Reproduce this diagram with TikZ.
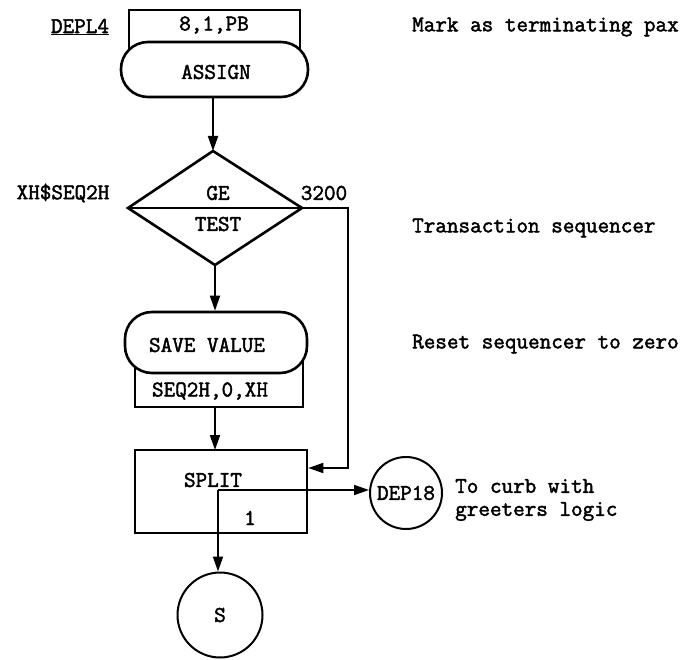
\documentclass[tikz,border=0pt]{standalone}
\usepackage{fontspec}
\newfontfamily\twfont[FakeBold=2]{Latin Modern Mono}
\usetikzlibrary{arrows.meta}
\tikzset{
  txt/.style={inner sep=0pt, font=\twfont\bfseries\fontsize{22.5}{24}\selectfont},
  box/.style={draw, line width=2.6pt, fill=white, inner sep=0pt},
  stadium/.style={box, rounded corners=27pt},
  conn/.style={line width=1.8pt},
  arr/.style={conn, -{Triangle[length=15pt,width=10pt]}},
  circ/.style={draw, circle, line width=2pt, inner sep=0pt, font=\twfont\bfseries\fontsize{22.5}{24}\selectfont}
}
\begin{document}
\begin{tikzpicture}[x=1pt,y=-1pt]
\useasboundingbox (0,0) rectangle (696,660);
% ASSIGN block
\node[box, minimum width=171pt, minimum height=44pt] (pbbox) at (214.5,32) {};
\node[stadium, minimum width=187pt, minimum height=55pt] (assign) at (214.5,69.5) {};
\node[txt] (pbtxt) at (214,25) {8,1,PB};
\node[txt] (assigntxt) at (216,72) {ASSIGN};
\node[txt] (depl4) at (80,27) {\underline{DEPL4}};
\node[txt, anchor=west] (c1txt) at (412,27) {Mark as terminating pax};
% TEST diamond
\coordinate (dt) at (213,151);
\coordinate (dl) at (128,208);
\coordinate (dr) at (302,208);
\coordinate (db) at (215,265);
\draw[line width=2.6pt, line join=miter] (dt) -- (dr) -- (db) -- (dl) -- cycle;
\draw[line width=2pt] (dl) -- (dr);
\node[txt] (ge) at (218,193) {GE};
\node[txt] (test) at (218,224) {TEST};
\node[txt] (v3200) at (324,193) {3200};
\node[txt] (xhseq) at (63,193) {XH\$SEQ2H};
\node[txt, anchor=west] (c2txt) at (412,228) {Transaction sequencer};
% SAVE VALUE block
\node[box, minimum width=168pt, minimum height=50pt] (seqbox) at (219,382) {};
\node[stadium, minimum width=182pt, minimum height=61pt] (save) at (216,342.5) {};
\node[txt] (savetxt) at (207,345) {SAVE VALUE};
\node[txt] (seqtxt) at (210,391) {SEQ2H,0,XH};
\node[txt, anchor=west] (c3txt) at (412,344) {Reset sequencer to zero};
% SPLIT block
\node[box, minimum width=172pt, minimum height=83pt] (split) at (221,491.5) {};
\node[txt] (splittxt) at (213,480) {SPLIT};
\node[txt] (onetxt) at (250,518) {1};
% circles
\node[circ, minimum size=72pt] (dep18) at (406,493) {DEP18};
\node[circ, minimum size=85pt] (s) at (220,615) {S};
\node[inner sep=0pt, anchor=west, align=left, font=\twfont\bfseries\fontsize{22.5}{23}\selectfont] (c4txt) at (455,500) {To curb with\\greeters logic};
% connectors
\coordinate (j) at (218,490);
\coordinate (k1) at (348,208);
\coordinate (k2) at (348,468);
\draw[arr] (213,97) -- (dt);
\draw[arr] (db) -- (save.north -| db);
\draw[arr] (215,407) -- (215,450);
\draw[arr] (dr) -- (k1) -- (k2) -- (k2 -| split.east);
\draw[arr] (j) -- (j -| dep18.west);
\draw[arr] (j) -- (s.north -| j);
\end{tikzpicture}
\end{document}
